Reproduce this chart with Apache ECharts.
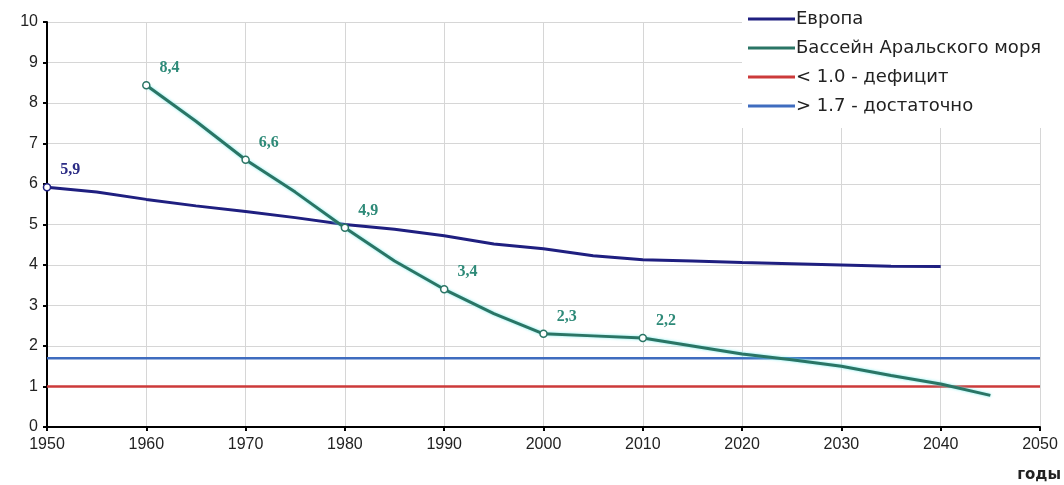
<!DOCTYPE html>
<html><head><meta charset="utf-8">
<script src="https://cdn.jsdelivr.net/npm/echarts@6/dist/echarts.min.js"></script>
<style>html,body{margin:0;padding:0;background:#fff}#c{width:1064px;height:485px}</style>
</head><body><div id="c"></div>
<script>
var xTicks = [1950,1960,1970,1980,1990,2000,2010,2020,2030,2040,2050];
var europeYears = [1950,1955,1960,1965,1970,1975,1980,1985,1990,1995,2000,2005,2010,2015,2020,2025,2030,2035,2040];
var europeValues = [5.92,5.8,5.62,5.46,5.32,5.17,5.0,4.88,4.72,4.52,4.4,4.23,4.13,4.1,4.06,4.03,4.0,3.97,3.96];
var europeLabeled = [1950];
var aralYears = [1960,1965,1970,1975,1980,1985,1990,1995,2000,2005,2010,2015,2020,2025,2030,2035,2040,2045];
var aralValues = [8.44,7.55,6.6,5.8,4.92,4.1,3.4,2.8,2.3,2.25,2.2,2.0,1.8,1.66,1.5,1.27,1.06,0.78];
var aralLabeled = [1960,1970,1980,1990,2000,2010];
var deficitYears = [1950,2050], deficitValues = [1.0,1.0];
var enoughYears = [1950,2050], enoughValues = [1.7,1.7];
var names = ['Европа','Бассейн Аральского моря','< 1.0 - дефицит','> 1.7 - достаточно'];

function build(years, vals, labeled, color, lblColor){
  return years.map(function(y,i){
    var on = labeled.indexOf(y) >= 0;
    return {
      value:[y, vals[i]],
      symbol: on ? 'circle' : 'none',
      symbolSize: 7,
      itemStyle:{color:'#fff', borderColor: color, borderWidth:1.5},
      label:{show:on, position:'right', distance:4, offset:[5,-17],
        formatter: vals[i].toFixed(1).replace('.',','),
        color: lblColor, fontFamily:'Liberation Serif', fontWeight:'bold', fontSize:16}
    };
  });
}
function pairs(xs, vs){ return xs.map(function(x,i){return [x, vs[i]];}); }

var chart = echarts.init(document.getElementById('c'));
chart.setOption({
  animation:false,
  backgroundColor:'#fff',
  grid:{left:47, right:24, top:22, bottom:58, containLabel:false},
  legend:{
    orient:'vertical', left:742, top:0,
    padding:[9,30,12,6], backgroundColor:'#fff',
    itemWidth:47, itemHeight:3, itemGap:9, icon:'rect',
    textStyle:{fontFamily:'DejaVu Sans', fontSize:18, lineHeight:20, color:'#222', padding:[0,0,0,-4]},
    data:names
  },
  xAxis:{
    type:'value', min:1950, max:2050, interval:10,
    axisLine:{lineStyle:{color:'#000', width:2}},
    axisTick:{show:true, length:4, lineStyle:{color:'#000', width:2}},
    axisLabel:{color:'#222', fontFamily:'Liberation Sans', fontSize:16, margin:10,
      formatter:function(v){return String(v);}},
    splitLine:{show:true, lineStyle:{color:'#d6d6d6', width:1}},
    name:'годы', nameLocation:'end', nameGap:21,
    nameTextStyle:{fontFamily:'DejaVu Sans', fontWeight:'bold', fontSize:15, color:'#222',
      align:'right', verticalAlign:'top', padding:[41,0,0,0]}
  },
  yAxis:{
    type:'value', min:0, max:10, interval:1,
    axisLine:{show:true, lineStyle:{color:'#000', width:2}},
    axisTick:{show:true, length:4, lineStyle:{color:'#000', width:2}},
    axisLabel:{color:'#222', fontFamily:'Liberation Sans', fontSize:16, margin:9},
    splitLine:{show:true, lineStyle:{color:'#d6d6d6', width:1}}
  },
  series:[
    {name:names[0], type:'line', z:4, color:'#1f1f80',
     lineStyle:{color:'#1f1f80', width:3}, showSymbol:true,
     data:build(europeYears, europeValues, europeLabeled, '#1f1f80', '#2b2b85')},
    {name:names[1], type:'line', z:5, color:'#2a7565',
     lineStyle:{color:'#2a7565', width:3, shadowColor:'rgba(110,235,235,0.9)', shadowBlur:3},
     showSymbol:true,
     data:build(aralYears, aralValues, aralLabeled, '#2a7565', '#2e8a78')},
    {name:names[2], type:'line', z:3, color:'#cc3a3a', symbol:'none',
     lineStyle:{color:'#cc3a3a', width:2.5}, data:pairs(deficitYears, deficitValues)},
    {name:names[3], type:'line', z:3, color:'#3f6cbf', symbol:'none',
     lineStyle:{color:'#3f6cbf', width:2.5}, data:pairs(enoughYears, enoughValues)}
  ]
});
</script></body></html>
